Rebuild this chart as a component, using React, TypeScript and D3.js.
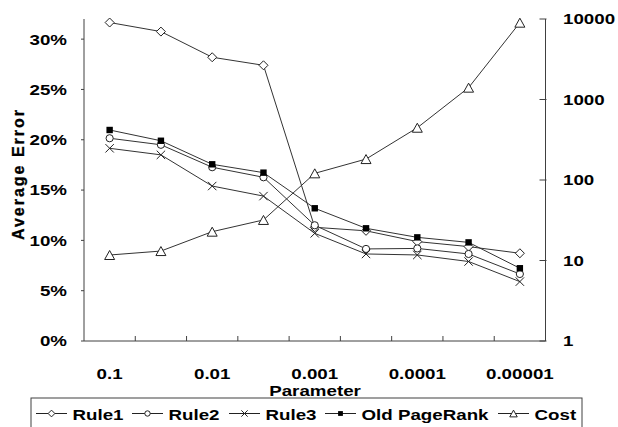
import React from "react";
import * as d3 from "d3";

// Parameter values along the x axis (labels shown on every other category)
const categories = ["0.1", "0.05", "0.01", "0.005", "0.001", "0.0005", "0.0001", "0.00005", "0.00001"];
const labeledCategories = ["0.1", "0.01", "0.001", "0.0001", "0.00001"];

// Average error per rule (left axis, fraction)
const rule1 = [0.3165, 0.3075, 0.282, 0.274, 0.113, 0.1095, 0.0988, 0.0938, 0.0872];
const rule2 = [0.2015, 0.195, 0.1727, 0.1627, 0.115, 0.0915, 0.092, 0.0865, 0.0666];
const rule3 = [0.1915, 0.185, 0.154, 0.144, 0.107, 0.0865, 0.0855, 0.079, 0.059];
const oldPageRank = [0.2097, 0.199, 0.1756, 0.1673, 0.1319, 0.112, 0.103, 0.098, 0.0723];
// Cost (right axis, log scale)
const cost = [11.7, 13.1, 22.8, 31.9, 121, 182, 446, 1403, 9000];

const leftTicks = [0, 0.05, 0.1, 0.15, 0.2, 0.25, 0.3];
const rightTicks = [1, 10, 100, 1000, 10000];

const legendNames = ["Rule1", "Rule2", "Rule3", "Old PageRank", "Cost"];
const legendX = [36, 132, 229, 325, 498];

const FONT = "'Liberation Sans', Arial, sans-serif";
const INK = "#222";
const AXIS = "#404040";

type Marker = "diamond" | "circle" | "cross" | "square" | "triangle";

function MarkerShape({ kind, x, y, s = 1 }: { kind: Marker; x: number; y: number; s?: number }) {
  switch (kind) {
    case "diamond": {
      const r = 4.5 * s;
      return (
        <polygon
          points={`${x},${y - r} ${x + r},${y} ${x},${y + r} ${x - r},${y}`}
          fill="#fff"
          stroke={INK}
          strokeWidth={1}
        />
      );
    }
    case "circle":
      return <circle cx={x} cy={y} r={3.6 * s} fill="#fff" stroke={INK} strokeWidth={1} />;
    case "cross": {
      const r = 4.2 * s;
      return (
        <path
          d={`M${x - r},${y - r}L${x + r},${y + r}M${x - r},${y + r}L${x + r},${y - r}`}
          stroke={INK}
          strokeWidth={1}
        />
      );
    }
    case "square": {
      const r = 3.2 * s;
      return <rect x={x - r} y={y - r} width={2 * r} height={2 * r} fill="#000" />;
    }
    case "triangle": {
      const w = 5 * s;
      const h = 4.5 * s;
      return (
        <polygon
          points={`${x},${y - h} ${x + w},${y + h} ${x - w},${y + h}`}
          fill="#fff"
          stroke={INK}
          strokeWidth={1}
        />
      );
    }
  }
}

function WideText({
  x,
  y,
  anchor = "start",
  size = 15,
  children,
}: {
  x: number;
  y: number;
  anchor?: "start" | "middle" | "end";
  size?: number;
  children: React.ReactNode;
}) {
  return (
    <g transform={`translate(${x},${y}) scale(1.25,1)`}>
      <text
        textAnchor={anchor}
        fontFamily={FONT}
        fontWeight="bold"
        fontSize={size}
        fill="#000"
      >
        {children}
      </text>
    </g>
  );
}

export default function App() {
  const left = 84;
  const right = 545.5;
  const top = 19;
  const bottom = 341;

  const x = d3.scaleBand<string>().domain(categories).range([left, right]).padding(0);
  const cx = (c: string) => (x(c) as number) + x.bandwidth() / 2;
  const yL = d3.scaleLinear().domain([0, 0.32]).range([bottom, top]);
  const yR = d3.scaleLog().domain([1, 10000]).range([bottom, top]);
  const pct = d3.format(".0%");

  const series: { values: number[]; marker: Marker; y: (v: number) => number }[] = [
    { values: rule1, marker: "diamond", y: yL },
    { values: rule2, marker: "circle", y: yL },
    { values: rule3, marker: "cross", y: yL },
    { values: oldPageRank, marker: "square", y: yL },
    { values: cost, marker: "triangle", y: yR },
  ];

  return (
    <svg
      width={618}
      height={427}
      style={{ position: "absolute", left: 0, top: 0, background: "#fff" }}
    >
      <rect x={0} y={0} width={618} height={427} fill="#fff" />

      {/* Axes */}
      <line x1={left} x2={left} y1={top} y2={bottom} stroke={AXIS} />
      <line x1={right} x2={right} y1={top} y2={bottom} stroke={AXIS} />
      <line x1={left} x2={right} y1={bottom} y2={bottom} stroke={AXIS} />

      {leftTicks.map((t) => (
        <g key={`l${t}`}>
          <line x1={left - 3} x2={left} y1={yL(t)} y2={yL(t)} stroke={AXIS} />
          <WideText x={67} y={yL(t) + 5.4} anchor="end">
            {pct(t)}
          </WideText>
        </g>
      ))}

      {rightTicks.map((t) => (
        <g key={`r${t}`}>
          <line x1={right - 6} x2={right + 1} y1={yR(t)} y2={yR(t)} stroke={AXIS} />
          <WideText x={563} y={yR(t) + 5.4} anchor="start">
            {String(t)}
          </WideText>
        </g>
      ))}

      {categories.slice(1).map((c) => (
        <line
          key={`t${c}`}
          x1={x(c) as number}
          x2={x(c) as number}
          y1={bottom - 5}
          y2={bottom}
          stroke={AXIS}
        />
      ))}

      {labeledCategories.map((c) => (
        <WideText key={`x${c}`} x={cx(c)} y={379} anchor="middle">
          {c}
        </WideText>
      ))}

      <WideText x={315} y={395.5} anchor="middle">
        Parameter
      </WideText>

      <text
        transform="translate(23.5,174) rotate(-90)"
        textAnchor="middle"
        fontFamily={FONT}
        fontWeight="bold"
        fontSize={16}
        letterSpacing={2}
        stroke="#000"
        strokeWidth={0.3}
      >
        Average Error
      </text>

      {/* Series lines and markers */}
      {series.map((s, i) => {
        const line = d3
          .line<number>()
          .x((_, j) => cx(categories[j]))
          .y((v) => s.y(v));
        return (
          <g key={`s${i}`}>
            <path d={line(s.values) || ""} fill="none" stroke="#333" strokeWidth={1} />
            {s.values.map((v, j) => (
              <MarkerShape key={j} kind={s.marker} x={cx(categories[j])} y={s.y(v)} />
            ))}
          </g>
        );
      })}

      {/* Legend */}
      <rect x={31} y={398} width={551} height={40} fill="#fff" stroke={AXIS} />
      {legendNames.map((name, i) => {
        const lx = legendX[i];
        return (
          <g key={name}>
            <line x1={lx} x2={lx + 31} y1={413.5} y2={413.5} stroke={INK} />
            <MarkerShape kind={series[i].marker} x={lx + 15.5} y={413.5} s={0.75} />
            <WideText x={lx + 36.5} y={419.5}>
              {name}
            </WideText>
          </g>
        );
      })}
    </svg>
  );
}
